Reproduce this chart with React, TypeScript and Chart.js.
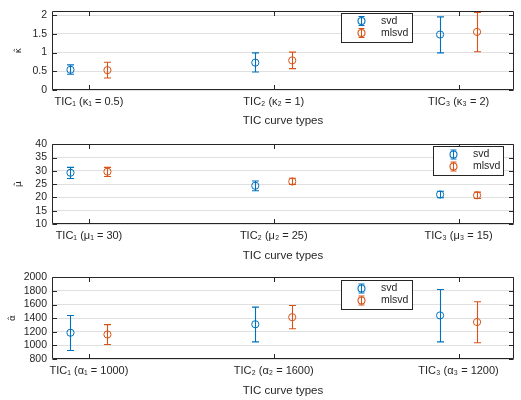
import React, { useEffect, useRef } from "react";
import { Chart, registerables } from "chart.js";
Chart.register(...registerables);

// ---------- data ----------
const kappaLabels = ["TIC₁ (κ₁ = 0.5)", "TIC₂ (κ₂ = 1)", "TIC₃ (κ₃ = 2)"];
const muLabels = ["TIC₁ (μ₁ = 30)", "TIC₂ (μ₂ = 25)", "TIC₃ (μ₃ = 15)"];
const alphaLabels = ["TIC₁ (α₁ = 1000)", "TIC₂ (α₂ = 1600)", "TIC₃ (α₃ = 1200)"];
const categoryPositions = [1, 2, 3];
const seriesNames = ["svd", "mlsvd"];
const seriesOffsets = [-0.1, 0.1];

const svdKappaMean = [0.54, 0.73, 1.48];
const svdKappaLow = [0.42, 0.48, 0.99];
const svdKappaHigh = [0.67, 0.99, 1.95];
const mlsvdKappaMean = [0.53, 0.79, 1.55];
const mlsvdKappaLow = [0.32, 0.57, 1.02];
const mlsvdKappaHigh = [0.74, 1.01, 2.07];

const svdMuMean = [29.3, 24.4, 21.1];
const svdMuLow = [27.1, 22.5, 19.9];
const svdMuHigh = [31.3, 26.2, 22.3];
const mlsvdMuMean = [29.7, 26.0, 20.8];
const mlsvdMuLow = [27.9, 24.9, 19.6];
const mlsvdMuHigh = [31.3, 27.2, 22.0];

const svdAlphaMean = [1186, 1310, 1440];
const svdAlphaLow = [925, 1052, 1052];
const svdAlphaHigh = [1440, 1562, 1820];
const mlsvdAlphaMean = [1160, 1414, 1343];
const mlsvdAlphaLow = [1014, 1245, 1038];
const mlsvdAlphaHigh = [1305, 1586, 1640];

const kappaTicks = [0, 0.5, 1, 1.5, 2];
const muTicks = [10, 15, 20, 25, 30, 35, 40];
const alphaTicks = [800, 1000, 1200, 1400, 1600, 1800, 2000];

const xTitle = "TIC curve types";

// ---------- styles ----------
const COLORS = ["#0072BD", "#D95319"];
const AXIS = "#262626";
const FONT = "'Liberation Sans', Arial, Helvetica, sans-serif";

const errorBarPlugin = {
  id: "errorBars",
  afterDatasetsDraw(chart: any) {
    const { ctx } = chart;
    const x = chart.scales.x;
    const y = chart.scales.y;
    chart.data.datasets.forEach((ds: any) => {
      ctx.save();
      ctx.strokeStyle = ds.borderColor;
      ctx.lineWidth = 1.1;
      ds.data.forEach((p: any, j: number) => {
        const px = Math.round(x.getPixelForValue(p.x)) + 0.5;
        const yl = y.getPixelForValue(ds.errLow[j]);
        const yh = y.getPixelForValue(ds.errHigh[j]);
        ctx.beginPath();
        ctx.moveTo(px, yl);
        ctx.lineTo(px, yh);
        ctx.moveTo(px - 3.5, yl);
        ctx.lineTo(px + 3.5, yl);
        ctx.moveTo(px - 3.5, yh);
        ctx.lineTo(px + 3.5, yh);
        ctx.stroke();
      });
      ctx.restore();
    });
  },
};

const boxPlugin = {
  id: "matBox",
  afterDraw(chart: any) {
    const { ctx, chartArea: a } = chart;
    const x = chart.scales.x;
    const y = chart.scales.y;
    ctx.save();
    ctx.strokeStyle = AXIS;
    ctx.lineWidth = 1;
    const L = Math.round(a.left) + 0.5;
    const R = Math.round(a.right) - 0.5;
    const T = Math.round(a.top) + 0.5;
    const B = Math.round(a.bottom) - 0.5;
    ctx.beginPath();
    ctx.rect(L, T, R - L, B - T);
    const tl = 4.5;
    y.ticks.forEach((t: any) => {
      const py = Math.round(y.getPixelForValue(t.value)) + 0.5;
      ctx.moveTo(L, py);
      ctx.lineTo(L + tl, py);
      ctx.moveTo(R, py);
      ctx.lineTo(R - tl, py);
    });
    x.ticks.forEach((t: any) => {
      const px = Math.round(x.getPixelForValue(t.value)) + 0.5;
      ctx.moveTo(px, B);
      ctx.lineTo(px, B - tl);
      ctx.moveTo(px, T);
      ctx.lineTo(px, T + tl);
    });
    ctx.stroke();

    // legend
    const lg = chart.options.plugins.matLegend;
    if (lg) {
      ctx.fillStyle = "#ffffff";
      ctx.fillRect(lg.left, lg.top, lg.width, lg.height);
      ctx.strokeStyle = AXIS;
      ctx.lineWidth = 1;
      ctx.strokeRect(Math.round(lg.left) + 0.5, Math.round(lg.top) + 0.5, lg.width, lg.height);
      chart.data.datasets.forEach((ds: any, i: number) => {
        const cy = lg.top + 8.5 + i * 12;
        const cx = lg.left + 20.5;
        ctx.strokeStyle = ds.borderColor;
        ctx.lineWidth = 1.1;
        ctx.beginPath();
        ctx.moveTo(cx, cy - 4.5);
        ctx.lineTo(cx, cy + 4.5);
        ctx.moveTo(cx - 3, cy - 4.5);
        ctx.lineTo(cx + 3, cy - 4.5);
        ctx.moveTo(cx - 3, cy + 4.5);
        ctx.lineTo(cx + 3, cy + 4.5);
        ctx.stroke();
        ctx.beginPath();
        ctx.arc(cx, cy, 3.5, 0, Math.PI * 2);
        ctx.stroke();
        ctx.fillStyle = AXIS;
        ctx.font = `10.5px ${FONT}`;
        ctx.textBaseline = "middle";
        ctx.textAlign = "left";
        ctx.fillText(ds.label, lg.left + 40, cy);
      });
    }
    ctx.restore();
  },
};

type Panel = {
  labels: string[];
  means: number[][];
  lows: number[][];
  highs: number[][];
  ticks: number[];
  yMin: number;
  yMax: number;
  yTitle: string;
  yTitlePad: number;
  canvasHeight: number;
  padTop: number;
  xAxisHeight: number;
  xTitlePad: number;
  legend: { left: number; top: number; width: number; height: number };
};

function ErrorPanel({ p, top }: { p: Panel; top: number }) {
  const ref = useRef<HTMLCanvasElement>(null);
  useEffect(() => {
    const datasets = seriesNames.map((name, s) => ({
      label: name,
      data: categoryPositions.map((c, j) => ({ x: c + seriesOffsets[s], y: p.means[s][j] })),
      errLow: p.lows[s],
      errHigh: p.highs[s],
      borderColor: COLORS[s],
      backgroundColor: "rgba(0,0,0,0)",
      pointStyle: "circle",
      pointRadius: 3.6,
      pointBorderWidth: 1,
      showLine: false,
    }));
    const chart = new Chart(ref.current as HTMLCanvasElement, {
      type: "scatter",
      data: { datasets } as any,
      plugins: [errorBarPlugin, boxPlugin],
      options: {
        animation: false,
        responsive: false,
        devicePixelRatio: 1,
        layout: { padding: { left: 0, right: 7, top: p.padTop, bottom: 0 } },
        plugins: {
          legend: { display: false },
          tooltip: { enabled: false },
          matLegend: p.legend,
        } as any,
        scales: {
          x: {
            type: "linear",
            min: 0.8,
            max: 3.3,
            afterBuildTicks: (s: any) => {
              s.ticks = categoryPositions.map((v) => ({ value: v }));
            },
            afterFit: (s: any) => {
              s.height = p.xAxisHeight;
            },
            grid: { display: false, drawTicks: false },
            border: { display: false },
            ticks: {
              autoSkip: false,
              maxRotation: 0,
              padding: 5,
              color: AXIS,
              font: { family: FONT, size: 11 },
              callback: (v: any) => p.labels[Math.round(Number(v)) - 1],
            },
            title: {
              display: true,
              text: xTitle,
              color: AXIS,
              font: { family: FONT, size: 11.5 },
              padding: { top: 0, bottom: p.xTitlePad },
            },
          },
          y: {
            type: "linear",
            min: p.yMin,
            max: p.yMax,
            afterBuildTicks: (s: any) => {
              s.ticks = p.ticks.map((v) => ({ value: v }));
            },
            afterFit: (s: any) => {
              s.width = 52;
            },
            grid: { color: "#e0e0e0", drawTicks: false, lineWidth: 1 },
            border: { display: false },
            ticks: {
              autoSkip: false,
              padding: 5,
              color: AXIS,
              font: { family: FONT, size: 10.5 },
              callback: (v: any) => String(v),
            },
            title: {
              display: true,
              text: p.yTitle,
              color: AXIS,
              font: { family: "'DejaVu Sans', sans-serif", size: 9 },
              padding: { top: p.yTitlePad, bottom: 0 },
            },
          },
        },
      } as any,
    });
    return () => chart.destroy();
  }, [p]);
  return (
    <canvas
      ref={ref}
      width={521}
      height={p.canvasHeight}
      style={{ position: "absolute", left: 0, top, width: 521, height: p.canvasHeight }}
    />
  );
}

const panels: { p: Panel; top: number }[] = [
  {
    top: 0,
    p: {
      labels: kappaLabels,
      means: [svdKappaMean, mlsvdKappaMean],
      lows: [svdKappaLow, mlsvdKappaLow],
      highs: [svdKappaHigh, mlsvdKappaHigh],
      ticks: kappaTicks,
      yMin: 0,
      yMax: 2.1,
      yTitle: "κ̂",
      yTitlePad: 13,
      canvasHeight: 133,
      padTop: 5,
      xAxisHeight: 43,
      xTitlePad: 5,
      legend: { left: 341, top: 12.5, width: 71, height: 29 },
    },
  },
  {
    top: 133,
    p: {
      labels: muLabels,
      means: [svdMuMean, mlsvdMuMean],
      lows: [svdMuLow, mlsvdMuLow],
      highs: [svdMuHigh, mlsvdMuHigh],
      ticks: muTicks,
      yMin: 10,
      yMax: 40,
      yTitle: "μ̂",
      yTitlePad: 13,
      canvasHeight: 133,
      padTop: 7,
      xAxisHeight: 42,
      xTitlePad: 3,
      legend: { left: 433, top: 13, width: 70, height: 29 },
    },
  },
  {
    top: 266,
    p: {
      labels: alphaLabels,
      means: [svdAlphaMean, mlsvdAlphaMean],
      lows: [svdAlphaLow, mlsvdAlphaLow],
      highs: [svdAlphaHigh, mlsvdAlphaHigh],
      ticks: alphaTicks,
      yMin: 800,
      yMax: 2000,
      yTitle: "α̂",
      yTitlePad: 7,
      canvasHeight: 134,
      padTop: 8.5,
      xAxisHeight: 41,
      xTitlePad: 2,
      legend: { left: 341, top: 14, width: 71, height: 29 },
    },
  },
];

export default function App() {
  return (
    <div
      style={{
        position: "fixed",
        left: 0,
        top: 0,
        width: 521,
        height: 400,
        background: "#ffffff",
        overflow: "hidden",
      }}
    >
      {panels.map((item, i) => (
        <ErrorPanel key={i} p={item.p} top={item.top} />
      ))}
    </div>
  );
}
